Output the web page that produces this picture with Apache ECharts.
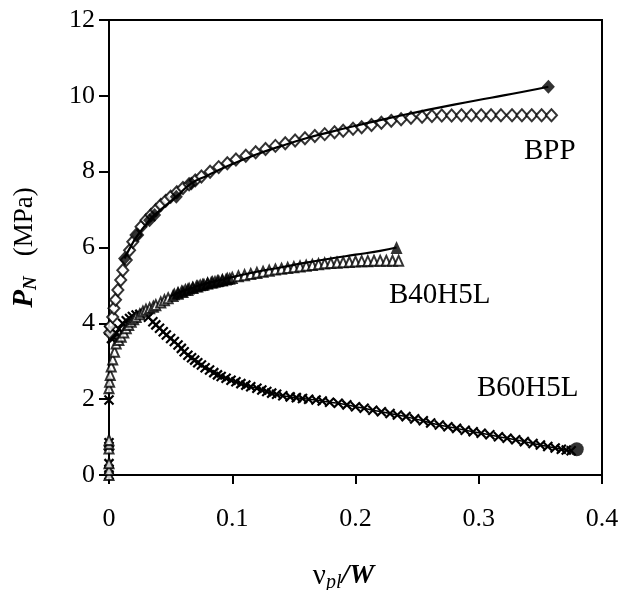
<!DOCTYPE html>
<html><head><meta charset="utf-8">
<script src="https://cdn.jsdelivr.net/npm/echarts@6/dist/echarts.min.js"></script>
<style>html,body{margin:0;padding:0;background:#fff}#c{width:633px;height:590px}</style>
</head><body><div id="c"></div>
<script>
// ---- data ----
const xTicks = [0, 0.1, 0.2, 0.3, 0.4];
const yTicks = [0, 2, 4, 6, 8, 10, 12];

// BPP open diamonds (test)
const bppV = [0.0005,0.001,0.003,0.004,0.0053,0.0072,0.0095,0.0112,0.014,0.0167,0.0193,0.022,0.026,0.030,0.034,0.038,0.042,0.046,0.050,0.055,0.060,0.065,0.070,0.075,0.082,0.089,0.096,0.103,0.111,0.119,0.127,0.135,0.143,0.151,0.159,0.167,0.175,0.183,0.190,0.198,0.205,0.213,0.221,0.229,0.237,0.245,0.254,0.262,0.270,0.278,0.286,0.294,0.302,0.310,0.318,0.327,0.335,0.343,0.351,0.359];
const bppP = [3.75,3.92,4.17,4.40,4.62,4.88,5.14,5.40,5.67,5.93,6.15,6.33,6.55,6.72,6.86,6.99,7.12,7.23,7.34,7.46,7.57,7.67,7.77,7.87,8.00,8.12,8.22,8.32,8.42,8.51,8.60,8.68,8.75,8.82,8.88,8.94,8.99,9.04,9.08,9.13,9.17,9.23,9.29,9.34,9.38,9.42,9.45,9.47,9.48,9.48,9.49,9.49,9.49,9.49,9.49,9.49,9.49,9.49,9.49,9.49];
// BPP model curve
const bppFitV = [0.0126,0.018,0.0234,0.0329,0.037,0.0546,0.0668,0.080,0.100,0.120,0.140,0.160,0.180,0.200,0.220,0.250,0.280,0.310,0.335,0.3565];
const bppFitP = [5.71,6.05,6.33,6.72,6.86,7.34,7.69,7.90,8.20,8.46,8.68,8.88,9.05,9.21,9.36,9.57,9.77,9.95,10.10,10.24];
// BPP model filled diamonds
const bppDotV = [0.0126,0.0234,0.0329,0.037,0.0546,0.0668,0.3565];
const bppDotP = [5.71,6.33,6.72,6.86,7.34,7.69,10.24];

// B40H5L open triangles (test)
const b40V = [0,0,0,0,0,0,0,0.0005,0.001,0.0018,0.003,0.0045,0.0058,0.008,0.0099,0.012,0.014,0.016,0.018,0.020,0.022,0.025,0.0275,0.030,0.033,0.036,0.038,0.042,0.045,0.048,0.052,0.056,0.060,0.064,0.068,0.072,0.076,0.080,0.084,0.088,0.092,0.096,0.100,0.105,0.110,0.115,0.120,0.125,0.130,0.135,0.140,0.145,0.150,0.155,0.160,0.165,0.170,0.175,0.180,0.185,0.190,0.195,0.200,0.205,0.210,0.215,0.220,0.225,0.230,0.235];
const b40P = [0.00,0.13,0.31,0.70,0.82,0.92,2.29,2.46,2.64,2.86,3.05,3.25,3.47,3.56,3.65,3.76,3.87,3.96,4.04,4.11,4.17,4.24,4.31,4.36,4.40,4.44,4.48,4.55,4.61,4.66,4.72,4.78,4.83,4.88,4.93,4.97,5.01,5.05,5.08,5.11,5.14,5.17,5.20,5.24,5.27,5.30,5.33,5.36,5.39,5.42,5.44,5.46,5.48,5.50,5.52,5.54,5.56,5.58,5.59,5.60,5.61,5.62,5.63,5.64,5.64,5.65,5.65,5.65,5.65,5.65];
// B40H5L model curve
const b40FitV = [0.050,0.060,0.070,0.080,0.090,0.100,0.120,0.140,0.160,0.180,0.200,0.220,0.2333];
const b40FitP = [4.72,4.85,4.96,5.06,5.14,5.22,5.36,5.48,5.60,5.71,5.81,5.91,6.00];
// B40H5L model filled triangles
const b40DotV = [0.053,0.056,0.059,0.062,0.065,0.068,0.071,0.074,0.077,0.080,0.083,0.086,0.089,0.092,0.095,0.098,0.2333];
const b40DotP = [4.78,4.82,4.86,4.90,4.93,4.96,4.99,5.02,5.04,5.07,5.09,5.11,5.13,5.15,5.17,5.19,6.00];

// B60H5L crosses (test)
const b60V = [0,0,0,0,0,0,0,0.002,0.004,0.0058,0.008,0.011,0.014,0.0167,0.019,0.022,0.025,0.029,0.032,0.0356,0.038,0.041,0.044,0.0465,0.050,0.053,0.056,0.0587,0.061,0.064,0.067,0.0695,0.072,0.075,0.078,0.0816,0.085,0.088,0.091,0.095,0.099,0.103,0.107,0.111,0.115,0.120,0.124,0.128,0.132,0.136,0.141,0.147,0.152,0.157,0.162,0.168,0.173,0.179,0.186,0.193,0.200,0.207,0.214,0.221,0.228,0.234,0.241,0.248,0.255,0.261,0.268,0.275,0.282,0.289,0.2955,0.302,0.309,0.316,0.323,0.330,0.337,0.344,0.350,0.356,0.362,0.367,0.371,0.375];
const b60P = [0.00,0.15,0.30,0.75,0.85,1.98,3.82,3.60,3.62,3.74,3.85,4.00,4.07,4.13,4.18,4.22,4.24,4.26,4.16,4.04,3.96,3.87,3.78,3.69,3.60,3.52,3.43,3.34,3.25,3.16,3.09,3.03,2.96,2.90,2.83,2.77,2.70,2.64,2.60,2.55,2.50,2.46,2.41,2.37,2.33,2.29,2.24,2.20,2.16,2.13,2.09,2.06,2.04,2.02,2.00,1.98,1.95,1.92,1.89,1.85,1.80,1.76,1.71,1.67,1.62,1.58,1.54,1.48,1.43,1.37,1.32,1.27,1.23,1.18,1.14,1.10,1.06,1.01,0.97,0.93,0.88,0.83,0.79,0.75,0.71,0.68,0.66,0.64];
// B60H5L model end point
const b60DotV = [0.3795];
const b60DotP = [0.68];

const curveLabels = ['BPP', 'B40H5L', 'B60H5L'];

// ---- chart ----
const pairs = (xs, ys) => xs.map((x, i) => [x, ys[i]]);
const FONT = 'Liberation Serif';
const CROSS = 'path://M0,0L10,10M0,10L10,0';

const chart = echarts.init(document.getElementById('c'), null, {renderer: 'canvas'});
chart.setOption({
  animation: false,
  backgroundColor: '#fff',
  grid: {left: 109, right: 31, top: 20, bottom: 115, show: true, borderColor: '#000', borderWidth: 2,
         containLabel: false, outerBoundsMode: 'none'},
  xAxis: {
    type: 'value', min: xTicks[0], max: xTicks[xTicks.length - 1], interval: 0.1,
    axisLine: {show: true, lineStyle: {color: '#000', width: 2}},
    axisTick: {show: true, inside: false, length: 9, lineStyle: {color: '#000', width: 2}},
    axisLabel: {color: '#000', fontFamily: FONT, fontSize: 26, margin: 31},
    splitLine: {show: false},
    name: '{v|ν}{s|pl}{w|/W}',
    nameLocation: 'middle', nameGap: 84, nameMoveOverlap: false,
    nameTextStyle: {
      color: '#000', fontFamily: FONT, fontSize: 27,
      rich: {
        v: {fontFamily: FONT, fontSize: 29, color: '#000'},
        s: {fontFamily: FONT, fontSize: 20, fontStyle: 'italic', color: '#000', padding: [14, 0, 0, 0]},
        w: {fontFamily: FONT, fontSize: 28, fontStyle: 'italic', fontWeight: 'bold', color: '#000', padding: [0, 24, 0, 0]}
      }
    }
  },
  yAxis: {
    type: 'value', min: yTicks[0], max: yTicks[yTicks.length - 1], interval: 2,
    axisLine: {show: true, lineStyle: {color: '#000', width: 2}},
    axisTick: {show: true, inside: false, length: 10, lineStyle: {color: '#000', width: 2}},
    axisLabel: {color: '#000', fontFamily: FONT, fontSize: 26, margin: 14},
    splitLine: {show: false},
    name: '{p|P}{n|N}{m|   (MPa)}',
    nameLocation: 'middle', nameGap: 68, nameRotate: 90,
    nameTextStyle: {
      color: '#000', fontFamily: FONT, fontSize: 27,
      rich: {
        p: {fontFamily: FONT, fontSize: 29, fontStyle: 'italic', fontWeight: 'bold', color: '#000'},
        n: {fontFamily: FONT, fontSize: 19, fontStyle: 'italic', fontWeight: 'bold', color: '#000', padding: [14, 0, 0, 0]},
        m: {fontFamily: FONT, fontSize: 27, color: '#000'}
      }
    }
  },
  series: [
    {type: 'line', data: pairs(b60V, b60P), symbol: CROSS, symbolSize: 9, showSymbol: true,
     itemStyle: {color: '#000', borderColor: '#000', borderWidth: 2.2},
     lineStyle: {color: '#000', width: 1.5}, z: 3},
    {type: 'scatter', data: pairs(b60DotV, b60DotP), symbol: 'circle', symbolSize: 14,
     itemStyle: {color: '#000'}, z: 5},
    {type: 'scatter', data: pairs(b40V, b40P), symbol: 'triangle', symbolSize: [9, 10],
     itemStyle: {color: '#fff', borderColor: '#000', borderWidth: 2}, z: 3},
    {type: 'line', data: pairs(b40FitV, b40FitP), showSymbol: false, smooth: true,
     lineStyle: {color: '#000', width: 2.2}, z: 4},
    {type: 'scatter', data: pairs(b40DotV, b40DotP), symbol: 'triangle', symbolSize: [12, 13],
     itemStyle: {color: '#000'}, z: 5},
    {type: 'scatter', data: pairs(bppV, bppP), symbol: 'diamond', symbolSize: [11, 12],
     itemStyle: {color: '#fff', borderColor: '#000', borderWidth: 2}, z: 3},
    {type: 'line', data: pairs(bppFitV, bppFitP), showSymbol: false, smooth: true,
     lineStyle: {color: '#000', width: 2.2}, z: 4},
    {type: 'scatter', data: pairs(bppDotV, bppDotP), symbol: 'diamond', symbolSize: [13, 14],
     itemStyle: {color: '#000'}, z: 5}
  ],
  graphic: [
    {type: 'text', left: 524, top: 137, style: {text: curveLabels[0], font: '29px "Liberation Serif"', fill: '#000'}},
    {type: 'text', left: 389, top: 281, style: {text: curveLabels[1], font: '29px "Liberation Serif"', fill: '#000'}},
    {type: 'text', left: 477, top: 374, style: {text: curveLabels[2], font: '29px "Liberation Serif"', fill: '#000'}}
  ]
});
</script></body></html>
